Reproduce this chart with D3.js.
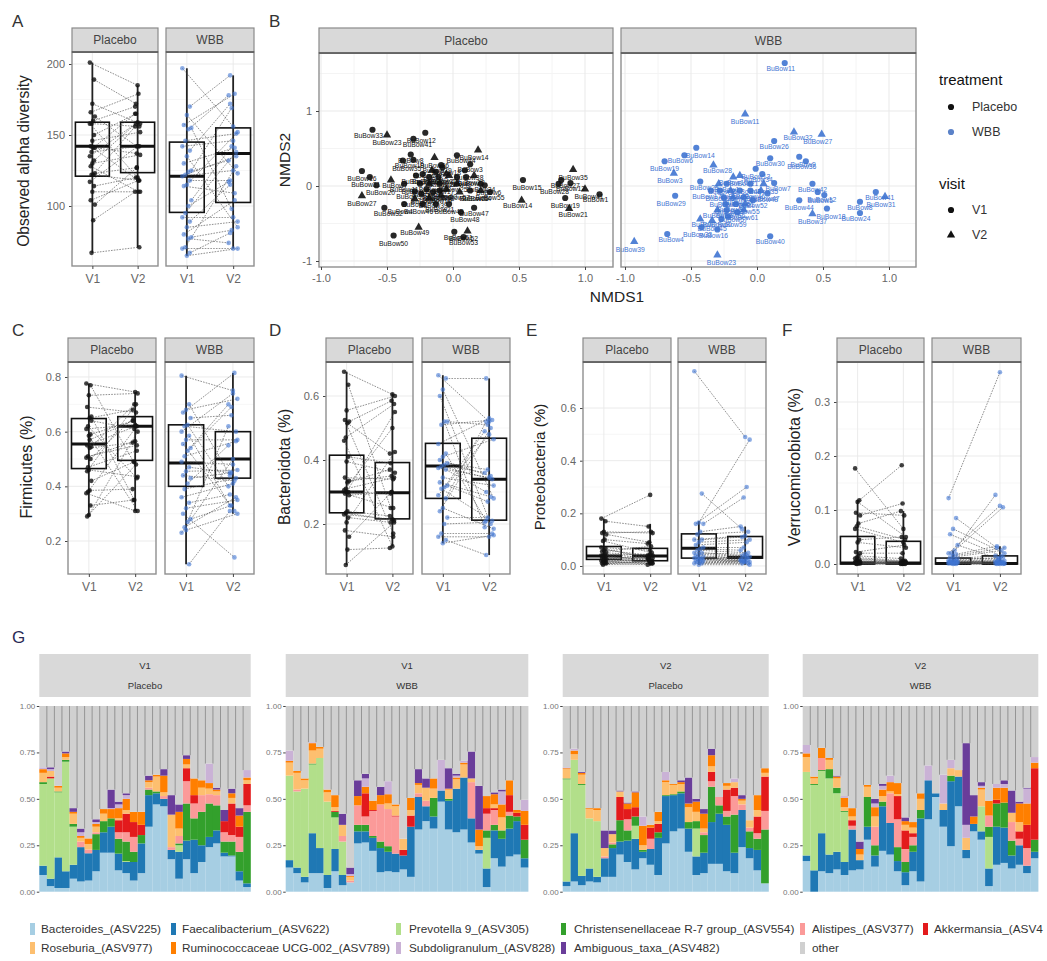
<!DOCTYPE html>
<html>
<head>
<meta charset="utf-8">
<script src="https://cdn.jsdelivr.net/npm/d3@7"></script>
<style>
  html, body { margin: 0; padding: 0; background: #fff; overflow: hidden; }
  svg { display: block; }
  text { font-family: "Liberation Sans", Arial, sans-serif; }
</style>
</head>
<body>
<div id="chart"></div>
<script>
var visits = ["V1", "V2"];
var treatments = ["Placebo", "WBB"];

// Panel A - observed alpha diversity, paired by index
var alphaPlaceboV1 = [201,189,172,166,163,160,158,158,150,146,142,141,141,138,135,132,130,128,123,122,122,117,114,110,104,101,90,67];
var alphaPlaceboV2 = [185,172,158,179,142,170,156,120,165,152,118,137,165,142,159,158,136,110,127,156,118,142,120,110,118,127,110,71];
var alphaWbbV1 = [197,170,164,157,155,154,146,142,139,135,130,125,124,122,121,118,115,114,104,100,95,92,89,85,80,78,77,71,70,67,65];
var alphaWbbV2 = [156,192,123,179,98,178,151,146,172,85,141,169,132,135,125,118,152,109,142,117,138,92,115,89,104,83,74,128,70,81,70];
// box stats: low, q1, median, q3, high
var alphaBoxes = [[67,121,142,159,201],[71,123.5,142,159,185],[65,95.5,121,145,197],[70,102.5,137,155,192]];

// Panel C - Firmicutes
var firmPlaceboV1 = [.776,.77,.733,.69,.655,.65,.62,.61,.59,.585,.55,.545,.54,.51,.505,.50,.46,.455,.42,.385,.38,.375,.33,.295,.29,.64,.57,.47];
var firmPlaceboV2 = [.745,.49,.74,.67,.35,.68,.43,.625,.64,.31,.62,.70,.56,.55,.565,.65,.435,.70,.49,.39,.62,.31,.35,.60,.48,.61,.64,.53];
var firmWbbV1 = [.805,.70,.68,.67,.65,.625,.62,.60,.585,.57,.555,.54,.53,.51,.49,.47,.455,.44,.43,.41,.39,.36,.34,.32,.30,.28,.27,.25,.23,.115,.24];
var firmWbbV2 = [.75,.44,.72,.815,.66,.40,.60,.74,.33,.57,.31,.69,.70,.565,.48,.45,.46,.42,.45,.55,.43,.41,.37,.35,.14,.33,.62,.36,.50,.31,.30];
var firmBoxes = [[.29,.465,.555,.648,.776],[.31,.495,.62,.655,.745],[.115,.40,.485,.625,.805],[.30,.43,.50,.60,.815]];

// Panel D - Bacteroidota
var bactPlaceboV1 = [.676,.635,.555,.525,.52,.515,.47,.46,.41,.395,.345,.335,.33,.31,.305,.30,.30,.295,.29,.24,.235,.23,.22,.205,.18,.16,.12,.072];
var bactPlaceboV2 = [.605,.25,.60,.17,.585,.42,.575,.13,.39,.36,.34,.35,.37,.345,.50,.295,.55,.25,.30,.225,.21,.215,.205,.425,.16,.30,.125,.205];
var bactWbbV1 = [.665,.655,.62,.60,.52,.52,.51,.45,.42,.41,.40,.39,.385,.38,.375,.37,.345,.33,.32,.315,.31,.29,.28,.25,.24,.22,.20,.17,.16,.15,.14];
var bactWbbV2 = [.52,.655,.28,.20,.51,.19,.525,.53,.21,.465,.35,.37,.36,.34,.345,.30,.32,.285,.27,.49,.21,.48,.52,.185,.50,.22,.205,.17,.16,.103,.165];
var bactBoxes = [[.072,.235,.30,.415,.676],[.13,.216,.298,.392,.608],[.14,.28,.381,.452,.665],[.103,.212,.34,.468,.655]];

// Panel E - Proteobacteria
var protPlaceboV1 = [.18,.17,.13,.125,.12,.10,.095,.07,.065,.06,.055,.05,.045,.04,.04,.035,.03,.03,.025,.025,.02,.02,.015,.015,.01,.01,.01,.005];
var protPlaceboV2 = [.27,.15,.125,.13,.09,.085,.05,.06,.03,.04,.075,.04,.03,.02,.045,.025,.03,.015,.02,.04,.02,.01,.03,.01,.015,.02,.005,.01];
var protWbbV1 = [.74,.275,.165,.16,.16,.13,.12,.10,.10,.09,.08,.07,.065,.06,.05,.05,.045,.04,.035,.03,.03,.03,.025,.025,.02,.02,.015,.015,.01,.01,.005];
var protWbbV2 = [.49,.14,.48,.30,.26,.15,.13,.115,.11,.10,.09,.07,.06,.05,.045,.04,.035,.03,.03,.025,.025,.02,.02,.015,.04,.015,.02,.01,.015,.01,.005];
var protBoxes = [[.005,.025,.038,.074,.18],[.002,.02,.038,.067,.16],[.005,.03,.067,.122,.17],[.005,.03,.033,.112,.15]];

// Panel F - Verrucomicrobiota
var verrPlaceboV1 = [.177,.118,.115,.095,.09,.075,.07,.065,.045,.04,.022,.02,.015,.012,.01,.008,.006,.005,.004,.004,.003,.003,.002,.002,.001,.001,.001,0];
var verrPlaceboV2 = [.065,.183,.05,.09,.112,.098,.045,.04,.05,.03,.035,.02,.01,.006,.005,.005,.003,.004,.002,.002,.003,.001,.001,.002,.001,0,0,0];
var verrWbbV1 = [.122,.085,.065,.055,.035,.025,.02,.02,.018,.015,.012,.01,.01,.008,.007,.006,.005,.005,.004,.004,.003,.003,.003,.002,.002,.002,.001,.001,.001,0,0];
var verrWbbV2 = [.355,.03,.02,.015,.01,.128,.105,.108,.033,.03,.025,.01,.015,.012,.008,.005,.006,.004,.003,.005,.003,.002,.002,.001,.002,.001,.001,0,0,0,.001];
var verrBoxes = [[0,0,.002,.051,.118],[0,0,.002,.042,.098],[0,0,.001,.011,.025],[0,0,.001,.015,.033]];

// Panel B - NMDS ordination
var nmdsPlaceboX = [-.61,-.50,-.30,-.21,-.32,-.38,-.30,-.14,.03,.19,.13,.09,-.09,-.69,-.47,-.63,-.28,-.23,-.16,-.13,-.08,-.05,-.18,-.11,-.03,.03,.10,.16,.21,.24,.03,-.10,-.18,-.25,-.37,-.58,-.29,-.69,-.52,-.37,-.29,-.18,-.09,-.03,-.13,-.23,.16,.06,-.26,-.45,.01,.11,.08,.53,.52,.91,.82,.80,.89,1.0,1.11,.85,.88,.21,.28,.13,.05,-.10,-.15,-.05,-.20,-.24];
var nmdsPlaceboY = [.75,.68,.63,.71,.42,.34,.35,.38,.41,.48,.29,.21,.28,.20,.08,.12,.14,.16,.21,.19,.25,.16,.12,.12,.14,.12,.12,.14,.03,.01,.03,.03,.03,.03,.03,.01,-.07,-.13,-.29,-.24,-.17,-.16,-.12,-.24,-.24,-.24,-.29,-.35,-.55,-.66,-.61,-.60,-.68,.08,-.19,.22,.08,.03,.04,-.04,-.11,-.16,-.30,-.06,-.08,-.06,-.08,-.06,-.08,-.04,-.04,-.10];
var nmdsPlaceboVisit = [1,2,1,1,1,1,1,2,1,2,1,1,1,1,2,1,1,1,2,1,1,2,1,1,2,1,1,2,1,1,2,1,2,1,1,1,1,2,1,1,2,2,2,1,1,1,1,1,2,1,1,2,1,1,2,2,1,1,1,2,1,1,2,2,1,1,2,1,1,2,1,1];
var nmdsPlaceboId = [33,23,41,12,8,35,19,26,44,14,3,38,29,16,7,31,10,24,42,5,18,37,2,28,13,40,22,9,34,6,25,17,43,30,11,20,36,27,32,4,1,39,15,45,21,46,47,48,49,50,51,52,53,15,14,35,27,28,12,41,1,19,21,54,55,56,57,58,59,60,61,62];
var nmdsWbbX = [.21,-.09,.28,.49,.13,-.46,-.55,-.70,-.33,-.63,.10,.32,.37,-.01,-.43,-.62,.42,.46,.51,.32,.90,.97,.78,.53,.78,.42,-.68,-.93,.10,-.30,-.30,-.34,-.43,-.42,-.18,-.13,.04,.05,.13,-.05,-.23,-.29,-.35,-.28,-.20,-.13,-.05,.03,.08,-.25,-.18,-.10,-.03,-.24,-.16,-.09,-.23,-.15,-.30,-.22,-.27,-.10];
var nmdsWbbY = [1.64,.96,.72,.69,.60,.51,.41,.33,.28,.17,.37,.39,.33,.23,.06,-.13,.03,-.08,-.12,-.19,-.08,-.14,-.21,-.30,-.36,-.37,-.64,-.74,-.67,-.92,-.58,-.46,-.44,-.55,.12,.14,.16,.03,.04,.03,.03,.03,-.06,-.06,-.06,-.06,-.06,-.06,-.10,-.15,-.15,-.15,-.19,-.24,-.24,-.24,-.32,-.35,-.32,-.41,-.44,-.32];
var nmdsWbbVisit = [1,2,2,2,1,1,1,1,2,2,1,1,1,1,1,1,1,1,1,1,1,2,1,1,1,2,1,2,1,2,1,2,2,1,2,2,1,2,1,1,1,2,1,1,2,1,1,2,1,1,2,1,1,1,1,2,1,1,2,1,1,2];
var nmdsWbbId = [11,11,32,27,26,14,6,19,28,3,30,9,36,13,25,29,42,12,5,44,41,31,8,18,24,37,4,39,40,23,16,45,2,33,10,21,34,35,7,43,1,15,17,20,22,38,46,47,48,49,50,51,52,53,54,55,56,57,58,59,60,61];

// Panel G - stacked composition. Row order follows taxa, "other" is the rest of each bar
var taxa = ["Bacteroides_(ASV225)","Faecalibacterium_(ASV622)","Prevotella 9_(ASV305)","Christensenellaceae R-7 group_(ASV554)","Alistipes_(ASV377)","Akkermansia_(ASV4","Roseburia_(ASV977)","Ruminococcaceae UCG-002_(ASV789)","Subdoligranulum_(ASV828)","Ambiguous_taxa_(ASV482)","other"];
var taxaColors = ["#a6cee3","#1f78b4","#b2df8a","#33a02c","#fb9a99","#e31a1c","#fdbf6f","#ff7f00","#cab2d6","#6a3d9a","#d0d0d0"];

var barsV1Placebo = [
[.09,.05,.44,.01,0,0,.05,.02,.01,0],[.03,.04,.54,0,0,.01,.03,0,.01,.01],[.02,.165,.35,.005,0,0,.02,.01,0,0],[.02,.09,.59,.01,0,0,.015,.02,0,.01],
[.07,.075,.205,.015,0,0,.055,.01,0,.02],[.055,.185,0,0,.03,0,.02,.01,.02,.02],[.06,.147,0,0,.02,0,.03,.03,0,0],[.11,.115,0,.085,.01,0,.03,.015,.01,.015],
[.21,.11,0,.06,0,0,.04,.025,0,0],[.21,.14,0,.045,0,0,0,.05,.005,.10],[.115,.09,0,.08,.035,.065,.01,.055,.02,.015],[.10,.06,.005,.105,.05,.10,.02,.06,.02,.01],
[.06,.10,0,.055,.08,.08,0,.055,0,0],[.10,.16,0,.045,0,.055,0,.07,0,0],[.35,.17,0,.03,.01,0,.03,.01,0,.025],[.47,.06,0,.01,0,0,.08,.01,0,0],
[.46,.04,0,0,.015,0,.02,.09,0,.035],[.175,.05,0,0,.015,0,.175,0,0,.105],[.07,.145,.035,.01,.04,0,.04,.09,0,.04],[.175,.10,0,.2,.12,.07,.02,.03,0,.02],
[.10,.18,0,.115,.08,.045,0,.09,0,0],[.16,.09,0,.18,.09,0,.04,.04,0,0],[.24,.055,0,.18,.05,0,.03,.03,.105,0],[.26,.07,0,.135,.055,0,.02,.01,0,.01],
[.19,.02,0,.06,.05,.06,0,0,0,.06],[.19,.005,0,.075,.035,.17,.03,.025,0,.025],[.06,.05,0,.105,.08,.055,0,.06,0,.04],[.025,.02,0,.385,.035,.115,.02,.015,.04,0]];

var barsV1Wbb = [
[.13,.04,.455,0,0,0,.07,.01,.055,0],[.10,.03,.41,0,.01,0,.09,.01,0,0],[.05,.03,.475,0,0,0,.045,.01,0,0],[.10,.215,.37,.005,0,0,.07,.04,.005,0],
[.10,.135,.485,0,0,0,.05,.01,0,0],[.02,.07,.395,0,0,0,.05,.015,0,0],[.11,.12,.17,.03,0,.005,.02,.065,0,0],[.035,.055,.18,0,.03,0,.06,0,0,.06],
[.05,0,0,0,.01,0,.02,.005,.01,.035],[.26,.065,0,.035,.105,0,0,.05,0,.085],[.265,.06,0,.035,.045,.125,0,.035,.045,.025],[.22,.07,0,.01,.135,.005,0,.05,0,0],
[.105,.13,0,.035,.2,0,0,.05,0,.045],[.11,.105,0,.03,.2,0,.03,.05,.07,0],[.105,.1,0,0,.2,.005,.05,.01,0,0],[.12,.075,0,0,0,.03,.06,0,0,0],
[.08,.27,0,0,0,.06,.03,.065,0,0],[.335,.175,0,0,.02,0,.045,.01,0,.075],[.38,.08,0,0,.03,0,.07,0,0,.05],[.34,.065,0,.10,0,0,.05,.055,0,0],
[.485,.06,0,0,0,0,0,0,.165,0],[.335,.155,0,.01,0,0,.05,.005,0,.11],[.32,.235,0,0,0,0,.05,.01,.01,.01],[.335,.28,0,0,0,0,.07,.01,.01,0],
[.265,.13,0,0,.195,0,.02,0,0,.145],[.205,.02,0,0,0,0,.02,.09,0,.235],[.025,.10,.165,.04,.09,.03,0,.065,0,0],[.18,.15,0,.03,.08,.01,.02,.055,0,.01],
[.135,.15,0,.045,0,0,.07,.07,.07,.01],[.19,.15,0,.07,.02,.09,0,.08,0,0],[.20,.18,0,.025,0,.02,0,.015,0,0],[.13,.05,0,.10,0,.08,0,.075,.06,0]];

var barsV2Placebo = [
[.03,.025,.55,.005,0,0,.05,.005,.005,0],[.055,.26,.395,0,0,0,.03,.02,.01,0],[.035,.05,.49,.005,0,0,.05,.01,0,.005],[.055,.07,.27,0,0,0,.05,.005,0,0],
[.05,.03,.30,0,0,0,.06,.01,0,0],[.08,.10,0,0,.01,0,.045,0,0,.095],[.08,.155,0,.02,.01,0,.045,0,0,.02],[.20,.07,0,.115,0,.125,.03,0,0,.005],
[.16,.115,0,.055,.06,.055,0,.03,0,.005],[.12,.165,.07,.05,0,.05,0,.08,0,.005],[.18,.035,0,.01,0,0,.025,.105,.05,0],[.145,.085,0,0,.055,.06,0,.015,0,0],
[.09,.2,0,.03,0,.045,.015,.05,0,0],[.26,.255,0,.005,0,0,.07,.01,.045,0],[.325,.195,0,.005,0,0,.05,.005,0,0],[.34,.19,0,.01,0,0,.04,.01,0,.01],
[.215,.125,0,.035,0,0,.08,.02,0,.14],[.09,.1,.15,.04,0,0,.05,.055,0,.015],[.10,.11,0,.095,.015,0,.02,.08,0,.025],[.15,.225,0,.19,.03,.05,.03,.06,0,.035],
[.15,.27,0,.045,.045,0,0,0,0,0],[.11,.25,0,.045,.03,.115,.02,.015,0,0],[.10,.11,0,.205,.10,.045,.03,0,.02,0],[.24,.2,0,0,.03,0,.02,.01,0,.02],
[.18,.055,0,.09,.02,0,.04,0,0,0],[.115,.11,0,.06,.03,.09,.035,.08,0,0],[.045,0,0,.29,.10,.185,.02,.025,0,0]];

var barsV2Wbb = [
[.165,.03,.45,0,0,0,.08,.02,.045,0],[0,.115,.46,.005,0,0,.03,.01,0,0],[.11,.205,.335,.005,.065,0,0,.055,0,0],[.10,.10,.41,.05,0,0,.05,.01,0,0],
[.12,.095,.315,.03,0,0,.05,.01,0,.005],[.09,.07,.27,.005,0,0,.02,.05,.01,0],[.115,.22,0,0,.02,.03,.02,.045,0,0],[.12,.05,0,0,0,0,.03,.03,0,.04],
[.28,.07,0,.16,0,0,.055,.01,0,0],[.135,.06,0,.055,.10,0,.055,.05,.02,.025],[.22,.24,0,.025,0,0,.03,.035,.02,.01],[.2,.17,0,0,.16,0,.01,.05,.035,0],
[.11,.055,0,.075,.15,.125,.01,.06,0,0],[.035,.07,0,.055,.07,.10,.03,.02,0,.02],[.11,.105,0,.035,.045,.02,.03,.03,0,0],[.055,.34,0,.045,0,0,.06,.03,0,0],
[.39,.21,0,0,0,0,0,0,.08,0],[.51,.02,0,0,0,0,0,0,0,0],[.35,.09,0,0,0,0,.035,0,.155,0],[.245,.35,0,.03,0,0,.04,0,.045,0],
[.46,.16,0,0,0,0,.035,0,0,0],[.18,.045,0,0,0,0,.065,0,.07,.44],[.325,.04,0,0,0,0,0,.04,0,.115],[.28,.045,.135,0,0,0,.09,.01,.01,.02],
[.03,.095,.17,.055,.06,0,0,.08,0,0],[.145,.205,0,.125,0,.02,0,.065,.02,0],[.155,.19,0,.135,0,0,0,.08,.02,.02],[.125,.07,0,.08,.10,0,.05,0,0,.12],
[.145,.105,0,0,.035,.04,.05,.10,0,.01],[.10,.04,0,0,.095,.125,0,.115,.08,.005],[.18,.035,0,.065,0,.385,0,.03,.03,0]];

var inkPlacebo = "#111";
var inkWbb = "#3f74d2";
var grid = "#e9e9e9";
var gridMinor = "#f4f4f4";
var tickInk = "#666";
var titleInk = "#222";

function init()
{
  var w = 1047;
  var h = 961;

  var svg = d3.select("#chart")
              .append("svg")
              .attr("width", w)
              .attr("height", h);

  function letter(txt, x, y, colour)
  {
    svg.append("text").text(txt)
       .attr("x", x).attr("y", y)
       .attr("font-size", 17)
       .attr("fill", colour || "#333");
  }

  function yTitle(txt, x, y, size)
  {
    svg.append("text").text(txt)
       .attr("transform", "translate(" + x + "," + y + ") rotate(-90)")
       .attr("text-anchor", "middle")
       .attr("font-size", size)
       .attr("fill", titleInk);
  }

  function strip(x0, x1, top, bottom, label)
  {
    svg.append("rect")
       .attr("x", x0).attr("y", top)
       .attr("width", x1 - x0).attr("height", bottom - top)
       .attr("fill", "#d9d9d9")
       .attr("stroke", "#8a8a8a")
       .attr("stroke-width", 1.2);
    svg.append("line")
       .attr("x1", x0).attr("x2", x1)
       .attr("y1", bottom).attr("y2", bottom)
       .attr("stroke", "#555")
       .attr("stroke-width", 1.5);
    svg.append("text").text(label)
       .attr("x", (x0 + x1) / 2).attr("y", (top + bottom) / 2 + 4)
       .attr("text-anchor", "middle")
       .attr("font-size", 12)
       .attr("fill", "#444");
  }

  function panelFrame(x0, x1, top, bottom)
  {
    svg.append("rect")
       .attr("x", x0).attr("y", top)
       .attr("width", x1 - x0).attr("height", bottom - top)
       .attr("fill", "none")
       .attr("stroke", "#8f8f8f")
       .attr("stroke-width", 1.4);
  }

  function styleAxis(g, size)
  {
    g.selectAll("path").remove();
    g.selectAll("line").attr("stroke", "#444");
    g.selectAll("text").attr("fill", tickInk).attr("font-size", size);
  }

  // one box + paired-line facet
  function pairedFacet(o)
  {
    var x = d3.scalePoint().domain(visits).range([o.x0, o.x1]).padding(0.45);
    var y = o.y;
    var colour = o.treatment == "WBB" ? inkWbb : inkPlacebo;
    var spread = o.treatment == "WBB" ? 4.5 : 2.5;
    var top = y.range()[1];
    var bottom = y.range()[0];

    // grid
    var minors = d3.pairs(o.ticks).map(function(p){ return (p[0] + p[1]) / 2; });
    var g = svg.append("g");
    g.selectAll("line.minor")
     .data(minors)
     .enter().append("line")
     .attr("x1", o.x0).attr("x2", o.x1)
     .attr("y1", function(d){ return y(d); })
     .attr("y2", function(d){ return y(d); })
     .attr("stroke", gridMinor).attr("stroke-width", 0.7);
    g.selectAll("line.major")
     .data(o.ticks)
     .enter().append("line")
     .attr("x1", o.x0).attr("x2", o.x1)
     .attr("y1", function(d){ return y(d); })
     .attr("y2", function(d){ return y(d); })
     .attr("stroke", grid).attr("stroke-width", 0.9);
    g.selectAll("line.vert")
     .data(visits)
     .enter().append("line")
     .attr("x1", function(d){ return x(d); })
     .attr("x2", function(d){ return x(d); })
     .attr("y1", top).attr("y2", bottom)
     .attr("stroke", grid).attr("stroke-width", 0.9);

    var boxW = x.step() * 0.75;
    var boxes = svg.append("g").selectAll("g")
       .data(visits)
       .enter().append("g");
    boxes.append("line")
       .attr("x1", function(d){ return x(d); })
       .attr("x2", function(d){ return x(d); })
       .attr("y1", function(d, i){ return y(o.boxes[i][0]); })
       .attr("y2", function(d, i){ return y(o.boxes[i][4]); })
       .attr("stroke", "#222")
       .attr("stroke-width", 1.8);
    boxes.append("rect")
       .attr("x", function(d){ return x(d) - boxW / 2; })
       .attr("width", boxW)
       .attr("y", function(d, i){ return y(o.boxes[i][3]); })
       .attr("height", function(d, i){ return y(o.boxes[i][1]) - y(o.boxes[i][3]); })
       .attr("fill", "none")
       .attr("stroke", "#111")
       .attr("stroke-width", 1.6);
    boxes.append("line")
       .attr("x1", function(d){ return x(d) - boxW / 2; })
       .attr("x2", function(d){ return x(d) + boxW / 2; })
       .attr("y1", function(d, i){ return y(o.boxes[i][2]); })
       .attr("y2", function(d, i){ return y(o.boxes[i][2]); })
       .attr("stroke", "#111")
       .attr("stroke-width", 3);

    function nudge(i, side)
    {
      return (((i * 5 + side * 3) % 7) - 3) / 3 * spread;
    }

    svg.append("g").selectAll("line")
       .data(o.v1)
       .enter().append("line")
       .attr("x1", function(d, i){ return x("V1") + nudge(i, 0); })
       .attr("y1", function(d){ return y(d); })
       .attr("x2", function(d, i){ return x("V2") + nudge(i, 1); })
       .attr("y2", function(d, i){ return y(o.v2[i]); })
       .attr("stroke", "#444")
       .attr("stroke-width", 0.7)
       .attr("stroke-dasharray", "1.6,1.2")
       .attr("opacity", 0.85);

    [o.v1, o.v2].forEach(function(vals, side){
      svg.append("g").selectAll("circle")
         .data(vals)
         .enter().append("circle")
         .attr("cx", function(d, i){ return x(visits[side]) + nudge(i, side); })
         .attr("cy", function(d){ return y(d); })
         .attr("r", 2.3)
         .attr("fill", colour)
         .attr("opacity", o.treatment == "WBB" ? 0.6 : 0.8);
    });

    panelFrame(o.x0, o.x1, top, bottom);
    strip(o.x0, o.x1, o.stripTop, top, o.treatment);

    var xAxis = svg.append("g")
       .attr("transform", "translate(0," + bottom + ")")
       .call(d3.axisBottom(x).tickSize(3).tickPadding(5));
    styleAxis(xAxis, 12);
  }

  function pairedPanel(o)
  {
    var y = d3.scaleLinear()
       .domain(o.yDomain)
       .range(o.yRange);
    var yAxis = svg.append("g")
       .attr("transform", "translate(" + o.facets[0][0] + ",0)")
       .call(d3.axisLeft(y).tickValues(o.ticks).tickFormat(o.format).tickSize(3).tickPadding(4));
    styleAxis(yAxis, 11);
    treatments.forEach(function(t, k){
      pairedFacet({
        x0: o.facets[k][0], x1: o.facets[k][1],
        y: y, ticks: o.ticks, stripTop: o.stripTop,
        treatment: t,
        v1: o.series[k][0], v2: o.series[k][1],
        boxes: o.boxes.slice(k * 2, k * 2 + 2)
      });
    });
  }

  var fmt1 = d3.format(".1f");
  function hyphen(f)
  {
    return function(v){ return f(v).replace("\u2212", "-"); };
  }

  pairedPanel({
    facets: [[72, 158], [166, 254]], stripTop: 28,
    yDomain: [200 - (266 - 64) / 1.42, 200 + (64 - 52) / 1.42], yRange: [266, 52],
    ticks: [100, 150, 200], format: d3.format("d"),
    series: [[alphaPlaceboV1, alphaPlaceboV2], [alphaWbbV1, alphaWbbV2]], boxes: alphaBoxes
  });
  pairedPanel({
    facets: [[68, 156], [165, 254]], stripTop: 338,
    yDomain: [.2 - (574 - 541) / 273.5, .8 + (377 - 362) / 273.5], yRange: [574, 362],
    ticks: [.2, .4, .6, .8], format: fmt1,
    series: [[firmPlaceboV1, firmPlaceboV2], [firmWbbV1, firmWbbV2]], boxes: firmBoxes
  });
  pairedPanel({
    facets: [[326, 413], [422, 510]], stripTop: 338,
    yDomain: [.2 - (574 - 524) / 320, .6 + (396 - 362) / 320], yRange: [574, 362],
    ticks: [.2, .4, .6], format: fmt1,
    series: [[bactPlaceboV1, bactPlaceboV2], [bactWbbV1, bactWbbV2]], boxes: bactBoxes
  });
  pairedPanel({
    facets: [[583, 671], [678, 766]], stripTop: 338,
    yDomain: [0 - (574 - 566) / 263, .6 + (408 - 362) / 263], yRange: [574, 362],
    ticks: [0, .2, .4, .6], format: fmt1,
    series: [[protPlaceboV1, protPlaceboV2], [protWbbV1, protWbbV2]], boxes: protBoxes
  });
  pairedPanel({
    facets: [[837, 924], [932, 1021]], stripTop: 338,
    yDomain: [0 - (574 - 564) / 540, .3 + (402 - 362) / 540], yRange: [574, 362],
    ticks: [0, .1, .2, .3], format: fmt1,
    series: [[verrPlaceboV1, verrPlaceboV2], [verrWbbV1, verrWbbV2]], boxes: verrBoxes
  });

  yTitle("Observed alpha diversity", 29, 161, 15.6);
  yTitle("Firmicutes (%)", 32, 467, 16);
  yTitle("Bacteroidota (%)", 290, 467, 15.6);
  yTitle("Proteobacteria (%)", 545, 467, 15.2);
  yTitle("Verrucomicrobiota (%)", 800, 467, 16);
  yTitle("NMDS2", 290, 160, 15.5);

  letter("A", 12, 27);
  letter("B", 269, 27);
  letter("C", 12, 336);
  letter("D", 269, 336);
  letter("E", 526, 336);
  letter("F", 782, 336);
  letter("G", 12, 643, "#2a2a55");

  // Panel B
  var nmdsFacets = [
    { x0: 319, x1: 613, zero: 453, xs: nmdsPlaceboX, ys: nmdsPlaceboY, vis: nmdsPlaceboVisit, ids: nmdsPlaceboId, colour: inkPlacebo, name: "Placebo" },
    { x0: 621, x1: 916, zero: 757, xs: nmdsWbbX, ys: nmdsWbbY, vis: nmdsWbbVisit, ids: nmdsWbbId, colour: inkWbb, name: "WBB" }
  ];
  var ny = d3.scaleLinear().domain([-1, 1]).range([261, 111]);
  var triangle = d3.symbol().type(d3.symbolTriangle).size(30);
  var disc = d3.symbol().type(d3.symbolCircle).size(30);

  nmdsFacets.forEach(function(f){
    var nx = d3.scaleLinear().domain([-1, 1]).range([f.zero - 132, f.zero + 132]);
    var xt = [-1, -.5, 0, .5, 1];
    var minorX = [-.75, -.25, .25, .75];
    var minorY = [-.5, .5, 1.5];
    var gr = svg.append("g");
    gr.selectAll("line.mx").data(minorX).enter().append("line")
      .attr("x1", function(d){ return nx(d); }).attr("x2", function(d){ return nx(d); })
      .attr("y1", 53).attr("y2", 267).attr("stroke", gridMinor);
    gr.selectAll("line.my").data(minorY).enter().append("line")
      .attr("y1", function(d){ return ny(d); }).attr("y2", function(d){ return ny(d); })
      .attr("x1", f.x0).attr("x2", f.x1).attr("stroke", gridMinor);
    gr.selectAll("line.vx").data(xt).enter().append("line")
      .attr("x1", function(d){ return nx(d); }).attr("x2", function(d){ return nx(d); })
      .attr("y1", 53).attr("y2", 267).attr("stroke", grid);
    gr.selectAll("line.hy").data([-1, 0, 1]).enter().append("line")
      .attr("y1", function(d){ return ny(d); }).attr("y2", function(d){ return ny(d); })
      .attr("x1", f.x0).attr("x2", f.x1).attr("stroke", grid);

    svg.append("g").selectAll("path")
       .data(f.xs)
       .enter().append("path")
       .attr("d", function(d, i){ return f.vis[i] == 2 ? triangle() : disc(); })
       .attr("transform", function(d, i){ return "translate(" + nx(d) + "," + ny(f.ys[i]) + ")"; })
       .attr("fill", f.colour)
       .attr("opacity", 0.9);

    svg.append("g").selectAll("text")
       .data(f.xs)
       .enter().append("text")
       .text(function(d, i){ return "BuBow" + f.ids[i]; })
       .attr("x", function(d, i){ return nx(d) - 4 + (i % 3) * 4; })
       .attr("y", function(d, i){ return ny(f.ys[i]) + 8 + (i % 2) * 2; })
       .attr("text-anchor", "middle")
       .attr("font-size", 6.8)
       .attr("fill", f.colour);

    panelFrame(f.x0, f.x1, 53, 267);
    strip(f.x0, f.x1, 28, 53, f.name);

    var xAxis = svg.append("g")
       .attr("transform", "translate(0,267)")
       .call(d3.axisBottom(nx).tickValues(xt).tickFormat(hyphen(fmt1)).tickSize(3).tickPadding(4));
    styleAxis(xAxis, 11);
  });

  var nyAxis = svg.append("g")
     .attr("transform", "translate(319,0)")
     .call(d3.axisLeft(ny).tickValues([-1, 0, 1]).tickFormat(hyphen(d3.format("d"))).tickSize(3).tickPadding(4));
  styleAxis(nyAxis, 11);

  svg.append("text").text("NMDS1")
     .attr("x", 617).attr("y", 302)
     .attr("text-anchor", "middle")
     .attr("font-size", 15.5)
     .attr("fill", titleInk);

  // B legends
  var legendRows = [
    { head: "treatment", y: 85, items: treatments, yItems: [107, 132], colours: [inkPlacebo, "#5b82c8"], shapes: [disc, disc] },
    { head: "visit", y: 189, items: visits, yItems: [210, 235], colours: [inkPlacebo, inkPlacebo], shapes: [disc, triangle] }
  ];
  legendRows.forEach(function(l){
    svg.append("text").text(l.head)
       .attr("x", 939).attr("y", l.y)
       .attr("font-size", 15)
       .attr("fill", "#111");
    l.items.forEach(function(t, i){
      svg.append("path")
         .attr("d", l.shapes[i]())
         .attr("transform", "translate(951," + l.yItems[i] + ")")
         .attr("fill", l.colours[i]);
      svg.append("text").text(t)
         .attr("x", 972).attr("y", l.yItems[i] + 4)
         .attr("font-size", 12.5)
         .attr("fill", "#333");
    });
  });

  // Panel G
  var compFacets = [
    { x0: 39.3, x1: 250.7, bars: barsV1Placebo, a: "V1", b: "Placebo" },
    { x0: 285.7, x1: 528.3, bars: barsV1Wbb, a: "V1", b: "WBB" },
    { x0: 562.7, x1: 768.7, bars: barsV2Placebo, a: "V2", b: "Placebo" },
    { x0: 802.7, x1: 1038.3, bars: barsV2Wbb, a: "V2", b: "WBB" }
  ];
  var gy = d3.scaleLinear().domain([0, 1]).range([891.7, 706]);
  var stack = d3.stack().keys(d3.range(taxa.length));

  compFacets.forEach(function(f){
    var rows = f.bars.map(function(r){
      var row = r.slice();
      row.push(1 - d3.sum(r));
      return row;
    });
    var gx = d3.scaleBand().domain(d3.range(rows.length)).range([f.x0, f.x1]);

    svg.append("rect")
       .attr("x", f.x0).attr("y", 654)
       .attr("width", f.x1 - f.x0).attr("height", 43)
       .attr("fill", "#d9d9d9");
    [[f.a, 669], [f.b, 689]].forEach(function(s){
      svg.append("text").text(s[0])
         .attr("x", (f.x0 + f.x1) / 2).attr("y", s[1])
         .attr("text-anchor", "middle")
         .attr("font-size", 9.5)
         .attr("fill", "#333");
    });

    svg.append("g").selectAll("g")
       .data(stack(rows))
       .enter().append("g")
       .attr("fill", function(d){ return taxaColors[d.key]; })
       .selectAll("rect")
       .data(function(d){ return d; })
       .enter().append("rect")
       .attr("x", function(d, i){ return gx(i); })
       .attr("width", gx.bandwidth() + 0.1)
       .attr("y", function(d){ return gy(d[1]); })
       .attr("height", function(d){ return gy(d[0]) - gy(d[1]); });

    // thin dark seams show up in the grey part only
    var tops = rows.map(function(r){ return 1 - r[r.length - 1]; });
    svg.append("g").selectAll("line")
       .data(d3.range(1, rows.length))
       .enter().append("line")
       .attr("x1", function(d){ return gx(d); })
       .attr("x2", function(d){ return gx(d); })
       .attr("y1", gy(1))
       .attr("y2", function(d){ return gy(Math.max(tops[d], tops[d - 1])); })
       .attr("stroke", "#777")
       .attr("stroke-width", 0.7);

    var axis = svg.append("g")
       .attr("transform", "translate(" + f.x0 + ",0)")
       .call(d3.axisLeft(gy).tickValues([0, .25, .5, .75, 1]).tickFormat(d3.format(".2f")).tickSize(2.5).tickPadding(1.5));
    styleAxis(axis, 8);
    axis.selectAll("text").attr("fill", "#777");
  });

  // G legend
  var legX = [30, 171, 396, 561, 800, 923];
  var legText = [41, 182, 409, 574, 812, 934];
  var legLayout = [[0,0],[1,0],[2,0],[3,0],[4,0],[5,0],[0,1],[1,1],[2,1],[3,1],[4,1]];
  var legend = svg.append("g");
  legend.selectAll("rect")
        .data(taxa)
        .enter().append("rect")
        .attr("x", function(d, i){ return legX[legLayout[i][0]]; })
        .attr("y", function(d, i){ return 923 + legLayout[i][1] * 19; })
        .attr("width", 5)
        .attr("height", 12)
        .attr("fill", function(d, i){ return taxaColors[i]; });
  legend.selectAll("text")
        .data(taxa)
        .enter().append("text")
        .text(function(d){ return d; })
        .attr("x", function(d, i){ return legText[legLayout[i][0]]; })
        .attr("y", function(d, i){ return 933 + legLayout[i][1] * 19; })
        .attr("font-size", 11.8)
        .attr("fill", "#333");
}

window.onload = init;
</script>
</body>
</html>
